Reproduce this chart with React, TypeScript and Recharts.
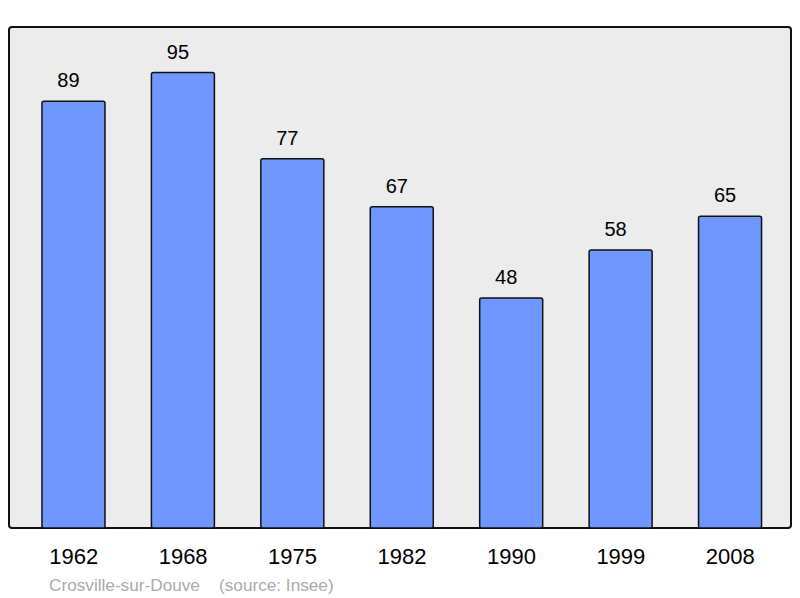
import { Bar, BarChart, LabelList, XAxis, YAxis } from "recharts";

const years = ["1962", "1968", "1975", "1982", "1990", "1999", "2008"];
const population = [89, 95, 77, 67, 48, 58, 65];
const commune = "Crosville-sur-Douve";
const source = "(source: Insee)";

const data = years.map((year, i) => ({ year, value: population[i] }));

const font = '"Liberation Sans", Arial, sans-serif';

export default function App() {
  return (
    <div style={{ position: "absolute", left: 0, top: 0, width: 800, height: 598, fontFamily: font }}>
      <div
        style={{
          position: "absolute",
          left: 8,
          top: 26,
          width: 780,
          height: 499,
          background: "#ececec",
          border: "2px solid #111",
          borderRadius: 4,
        }}
      />
      <div style={{ position: "absolute", left: 0, top: 0 }}>
        <BarChart
          width={800}
          height={598}
          data={data}
          margin={{ top: 27, right: 9, bottom: 30, left: 9 }}
          barCategoryGap="21%"
        >
          <XAxis
            dataKey="year"
            axisLine={false}
            tickLine={false}
            tickSize={0}
            tickMargin={20}
            height={40}
            padding={{ left: 10, right: 6 }}
            tick={{ fill: "#000", fontSize: 22, fontFamily: font }}
          />
          <YAxis hide domain={[0, 104.5]} />
          <Bar
            dataKey="value"
            fill="#7096ff"
            stroke="#111"
            strokeWidth={1.5}
            radius={2}
            isAnimationActive={false}
          >
            <LabelList
              dataKey="value"
              position="top"
              offset={14}
              dx={-5}
              fill="#000"
              fontSize={20}
              fontFamily={font}
            />
          </Bar>
        </BarChart>
      </div>
      <div
        style={{
          position: "absolute",
          left: 49,
          top: 575,
          fontSize: 17.2,
          color: "#aaa",
          whiteSpace: "pre",
        }}
      >
        {commune + "    " + source}
      </div>
    </div>
  );
}
